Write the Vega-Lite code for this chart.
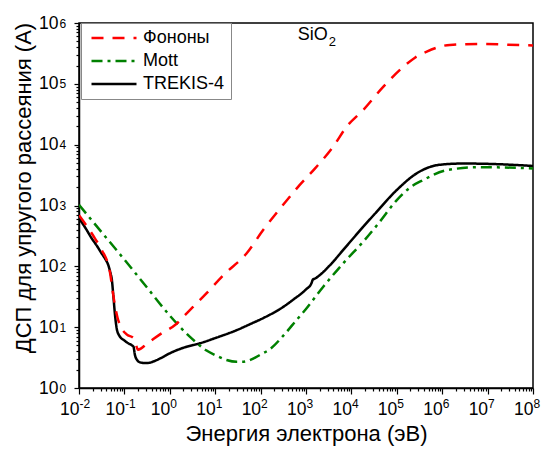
{
  "$schema": "https://vega.github.io/schema/vega-lite/v6.json",
  "width": 454,
  "height": 365,
  "autosize": {"type": "none"},
  "padding": {"left": 79, "top": 23, "right": 16, "bottom": 61},
  "background": "white",
  "config": {
    "font": "Liberation Sans",
    "view": {"stroke": "black", "strokeWidth": 1.5},
    "axis": {
      "domainColor": "black",
      "domainWidth": 1.5,
      "tickColor": "black",
      "tickWidth": 1.2,
      "labelColor": "black",
      "labelFont": "Liberation Sans",
      "labelOverlap": false,
      "labelFlush": false,
      "labelBound": false,
      "titleColor": "black",
      "titleFontSize": 22,
      "titleFontWeight": "normal",
      "titleFont": "Liberation Sans",
      "grid": false
    }
  },
  "resolve": {"axis": {"x": "independent", "y": "independent"}},
  "layer": [
    {
      "data": {
        "values": [
          {"series": "TREKIS-4", "E": 0.01, "s": 617},
          {"series": "TREKIS-4", "E": 0.01413, "s": 417},
          {"series": "TREKIS-4", "E": 0.01905, "s": 288.4},
          {"series": "TREKIS-4", "E": 0.02512, "s": 213.8},
          {"series": "TREKIS-4", "E": 0.03162, "s": 162.2},
          {"series": "TREKIS-4", "E": 0.038, "s": 131.8},
          {"series": "TREKIS-4", "E": 0.04416, "s": 104.7},
          {"series": "TREKIS-4", "E": 0.05012, "s": 74.1},
          {"series": "TREKIS-4", "E": 0.05248, "s": 63.1},
          {"series": "TREKIS-4", "E": 0.05689, "s": 33.9},
          {"series": "TREKIS-4", "E": 0.0621, "s": 15.85},
          {"series": "TREKIS-4", "E": 0.0676, "s": 9.55},
          {"series": "TREKIS-4", "E": 0.0759, "s": 7.41},
          {"series": "TREKIS-4", "E": 0.1, "s": 6.03},
          {"series": "TREKIS-4", "E": 0.1219, "s": 5.43},
          {"series": "TREKIS-4", "E": 0.1479, "s": 5.01},
          {"series": "TREKIS-4", "E": 0.1585, "s": 4.79},
          {"series": "TREKIS-4", "E": 0.1698, "s": 3.55},
          {"series": "TREKIS-4", "E": 0.1905, "s": 2.88},
          {"series": "TREKIS-4", "E": 0.2239, "s": 2.63},
          {"series": "TREKIS-4", "E": 0.2818, "s": 2.57},
          {"series": "TREKIS-4", "E": 0.3548, "s": 2.6},
          {"series": "TREKIS-4", "E": 0.4467, "s": 2.75},
          {"series": "TREKIS-4", "E": 0.631, "s": 3.09},
          {"series": "TREKIS-4", "E": 1, "s": 3.72},
          {"series": "TREKIS-4", "E": 2.163, "s": 4.68},
          {"series": "TREKIS-4", "E": 4.62, "s": 5.43},
          {"series": "TREKIS-4", "E": 10, "s": 6.61},
          {"series": "TREKIS-4", "E": 29.5, "s": 8.91},
          {"series": "TREKIS-4", "E": 63.1, "s": 11.48},
          {"series": "TREKIS-4", "E": 114.8, "s": 14.13},
          {"series": "TREKIS-4", "E": 269.2, "s": 19.95},
          {"series": "TREKIS-4", "E": 562, "s": 29.5},
          {"series": "TREKIS-4", "E": 1000, "s": 41.7},
          {"series": "TREKIS-4", "E": 1318, "s": 52.5},
          {"series": "TREKIS-4", "E": 1413, "s": 60.3},
          {"series": "TREKIS-4", "E": 1585, "s": 63.1},
          {"series": "TREKIS-4", "E": 3388, "s": 104.7},
          {"series": "TREKIS-4", "E": 6607, "s": 186.2},
          {"series": "TREKIS-4", "E": 18197, "s": 446.7},
          {"series": "TREKIS-4", "E": 31623, "s": 707.9},
          {"series": "TREKIS-4", "E": 100000, "s": 1799},
          {"series": "TREKIS-4", "E": 275423, "s": 3388},
          {"series": "TREKIS-4", "E": 891251, "s": 4677},
          {"series": "TREKIS-4", "E": 2917427, "s": 4898},
          {"series": "TREKIS-4", "E": 15848932, "s": 4786},
          {"series": "TREKIS-4", "E": 100000000, "s": 4467},

          {"series": "Mott", "E": 0.01, "s": 1023},
          {"series": "Mott", "E": 0.03162, "s": 363.1},
          {"series": "Mott", "E": 0.1, "s": 128.8},
          {"series": "Mott", "E": 0.3162, "s": 44.67},
          {"series": "Mott", "E": 1, "s": 15.49},
          {"series": "Mott", "E": 2.786, "s": 6.92},
          {"series": "Mott", "E": 6.31, "s": 4.17},
          {"series": "Mott", "E": 10.72, "s": 3.39},
          {"series": "Mott", "E": 17.78, "s": 2.88},
          {"series": "Mott", "E": 29.5, "s": 2.69},
          {"series": "Mott", "E": 39.8, "s": 2.69},
          {"series": "Mott", "E": 63.1, "s": 2.95},
          {"series": "Mott", "E": 100, "s": 3.55},
          {"series": "Mott", "E": 162.2, "s": 4.37},
          {"series": "Mott", "E": 316.2, "s": 7.24},
          {"series": "Mott", "E": 623.7, "s": 13.18},
          {"series": "Mott", "E": 1000, "s": 19.95},
          {"series": "Mott", "E": 2399, "s": 46.2},
          {"series": "Mott", "E": 6607, "s": 112.2},
          {"series": "Mott", "E": 18197, "s": 254.1},
          {"series": "Mott", "E": 39811, "s": 512.9},
          {"series": "Mott", "E": 100000, "s": 1230},
          {"series": "Mott", "E": 199526, "s": 1995},
          {"series": "Mott", "E": 384592, "s": 2630},
          {"series": "Mott", "E": 1258925, "s": 3802},
          {"series": "Mott", "E": 6760830, "s": 4266},
          {"series": "Mott", "E": 100000000, "s": 4074},

          {"series": "Фононы", "E": 0.01, "s": 691.8},
          {"series": "Фононы", "E": 0.02239, "s": 288.4},
          {"series": "Фононы", "E": 0.03162, "s": 186.2},
          {"series": "Фононы", "E": 0.04786, "s": 81.3},
          {"series": "Фононы", "E": 0.05623, "s": 35.5},
          {"series": "Фононы", "E": 0.06166, "s": 23.2},
          {"series": "Фононы", "E": 0.0708, "s": 14.13},
          {"series": "Фононы", "E": 0.08, "s": 10.84},
          {"series": "Фононы", "E": 0.1122, "s": 7.59},
          {"series": "Фононы", "E": 0.1585, "s": 6.61},
          {"series": "Фононы", "E": 0.1778, "s": 5.25},
          {"series": "Фононы", "E": 0.1995, "s": 4.27},
          {"series": "Фононы", "E": 0.3162, "s": 5.37},
          {"series": "Фононы", "E": 0.631, "s": 7.76},
          {"series": "Фононы", "E": 1.303, "s": 10.84},
          {"series": "Фононы", "E": 2.355, "s": 16.9},
          {"series": "Фононы", "E": 6.31, "s": 35.5},
          {"series": "Фононы", "E": 15.14, "s": 71.9},
          {"series": "Фононы", "E": 49.4, "s": 163.7},
          {"series": "Фононы", "E": 114.8, "s": 398.1},
          {"series": "Фононы", "E": 269.2, "s": 891.3},
          {"series": "Фононы", "E": 676.1, "s": 2042},
          {"series": "Фононы", "E": 1585, "s": 4074},
          {"series": "Фононы", "E": 3981, "s": 9333},
          {"series": "Фононы", "E": 7943, "s": 19953},
          {"series": "Фононы", "E": 18197, "s": 37154},
          {"series": "Фононы", "E": 50119, "s": 89125},
          {"series": "Фононы", "E": 139637, "s": 190546},
          {"series": "Фононы", "E": 251189, "s": 269153},
          {"series": "Фононы", "E": 457088, "s": 338844},
          {"series": "Фононы", "E": 1479108, "s": 436516},
          {"series": "Фононы", "E": 6760830, "s": 451856},
          {"series": "Фононы", "E": 25118864, "s": 441570},
          {"series": "Фононы", "E": 100000000, "s": 426580}
        ]
      },
      "mark": {"type": "line", "interpolate": "monotone", "clip": true},
      "encoding": {
        "x": {
          "field": "E",
          "type": "quantitative",
          "scale": {"type": "log", "domain": [0.01, 100000000], "nice": false},
          "axis": {
            "orient": "bottom",
            "title": "Энергия электрона (эВ)",
            "values": [0.01, 0.02, 0.03, 0.04, 0.05, 0.06, 0.07, 0.08, 0.09,
                       0.1, 0.2, 0.3, 0.4, 0.5, 0.6, 0.7, 0.8, 0.9,
                       1, 2, 3, 4, 5, 6, 7, 8, 9,
                       10, 20, 30, 40, 50, 60, 70, 80, 90,
                       100, 200, 300, 400, 500, 600, 700, 800, 900,
                       1000, 2000, 3000, 4000, 5000, 6000, 7000, 8000, 9000,
                       10000, 20000, 30000, 40000, 50000, 60000, 70000, 80000, 90000,
                       100000, 200000, 300000, 400000, 500000, 600000, 700000, 800000, 900000,
                       1000000, 2000000, 3000000, 4000000, 5000000, 6000000, 7000000, 8000000, 9000000,
                       10000000, 20000000, 30000000, 40000000, 50000000, 60000000, 70000000, 80000000, 90000000,
                       100000000],
            "labelExpr": "abs(log(datum.value)/LN10 - round(log(datum.value)/LN10)) < 0.000001 ? '10' : ''",
            "labelFontSize": 17.5,
            "labelAlign": "right",
            "labelDx": 2,
            "tickSize": {"condition": {"test": "abs(log(datum.value)/LN10 - round(log(datum.value)/LN10)) < 0.000001", "value": 6}, "value": 3},
            "labelPadding": 6,
            "titlePadding": 6
          }
        },
        "y": {
          "field": "s",
          "type": "quantitative",
          "scale": {"type": "log", "domain": [1, 1000000], "nice": false},
          "axis": {
            "orient": "left",
            "title": "ДСП для упругого рассеяния (А)",
            "titleY": 164.5,
            "values": [1, 2, 3, 4, 5, 6, 7, 8, 9,
                       10, 20, 30, 40, 50, 60, 70, 80, 90,
                       100, 200, 300, 400, 500, 600, 700, 800, 900,
                       1000, 2000, 3000, 4000, 5000, 6000, 7000, 8000, 9000,
                       10000, 20000, 30000, 40000, 50000, 60000, 70000, 80000, 90000,
                       100000, 200000, 300000, 400000, 500000, 600000, 700000, 800000, 900000,
                       1000000],
            "labelExpr": "abs(log(datum.value)/LN10 - round(log(datum.value)/LN10)) < 0.000001 ? '10' : ''",
            "labelFontSize": 17.5,
            "tickSize": {"condition": {"test": "abs(log(datum.value)/LN10 - round(log(datum.value)/LN10)) < 0.000001", "value": 5}, "value": 3},
            "labelPadding": 16,
            "titlePadding": 3
          }
        },
        "color": {
          "field": "series",
          "type": "nominal",
          "scale": {"domain": ["Фононы", "Mott", "TREKIS-4"], "range": ["#ff0000", "#008000", "#000000"]},
          "legend": {
            "title": null,
            "orient": "none",
            "legendX": 2,
            "legendY": 0,
            "strokeColor": "#888888",
            "fillColor": "white",
            "padding": 6,
            "symbolType": "stroke",
            "symbolSize": 2025,
            "symbolOffset": 3,
            "clipHeight": 18,
            "rowPadding": 5,
            "labelFontSize": 18,
            "labelColor": "black",
            "labelOffset": 5,
            "labelLimit": 0
          }
        },
        "strokeDash": {
          "field": "series",
          "type": "nominal",
          "scale": {"domain": ["Фононы", "Mott", "TREKIS-4"], "range": [[12, 9], [11, 5, 3, 5], [1, 0]]},
          "legend": {"title": null}
        },
        "strokeWidth": {
          "field": "series",
          "type": "nominal",
          "scale": {"domain": ["Фононы", "Mott", "TREKIS-4"], "range": [2.5, 2.5, 3.5]},
          "legend": {"title": null}
        }
      }
    },
    {
      "data": {"values": [{"E": 656, "s": 635000, "label": "SiO"}]},
      "mark": {"type": "text", "align": "left", "baseline": "middle", "fontSize": 18, "color": "black", "font": "Liberation Sans"},
      "encoding": {
        "x": {
          "field": "E",
          "type": "quantitative",
          "axis": {
            "orient": "bottom",
            "title": null,
            "values": [0.01, 0.1, 1, 10, 100, 1000, 10000, 100000, 1000000, 10000000, 100000000],
            "labelExpr": "'' + round(log(datum.value)/LN10)",
            "labelFontSize": 12,
            "labelAlign": "left",
            "labelBaseline": "top",
            "labelDx": 2,
            "domain": false,
            "ticks": false,
            "tickSize": 0,
            "labelPadding": 10
          }
        },
        "y": {
          "field": "s",
          "type": "quantitative",
          "axis": {
            "orient": "left",
            "title": null,
            "values": [1, 10, 100, 1000, 10000, 100000, 1000000],
            "labelExpr": "'' + round(log(datum.value)/LN10)",
            "labelFontSize": 12,
            "labelAlign": "left",
            "labelDy": -4,
            "domain": false,
            "ticks": false,
            "tickSize": 0,
            "labelPadding": 20
          }
        },
        "text": {"field": "label"}
      }
    },
    {
      "data": {"values": [{"E": 656, "s": 635000, "label": "2"}]},
      "mark": {"type": "text", "align": "left", "baseline": "middle", "fontSize": 13, "dx": 31, "dy": 7, "color": "black", "font": "Liberation Sans"},
      "encoding": {
        "x": {"field": "E", "type": "quantitative", "axis": null},
        "y": {"field": "s", "type": "quantitative", "axis": null},
        "text": {"field": "label"}
      }
    }
  ]
}
